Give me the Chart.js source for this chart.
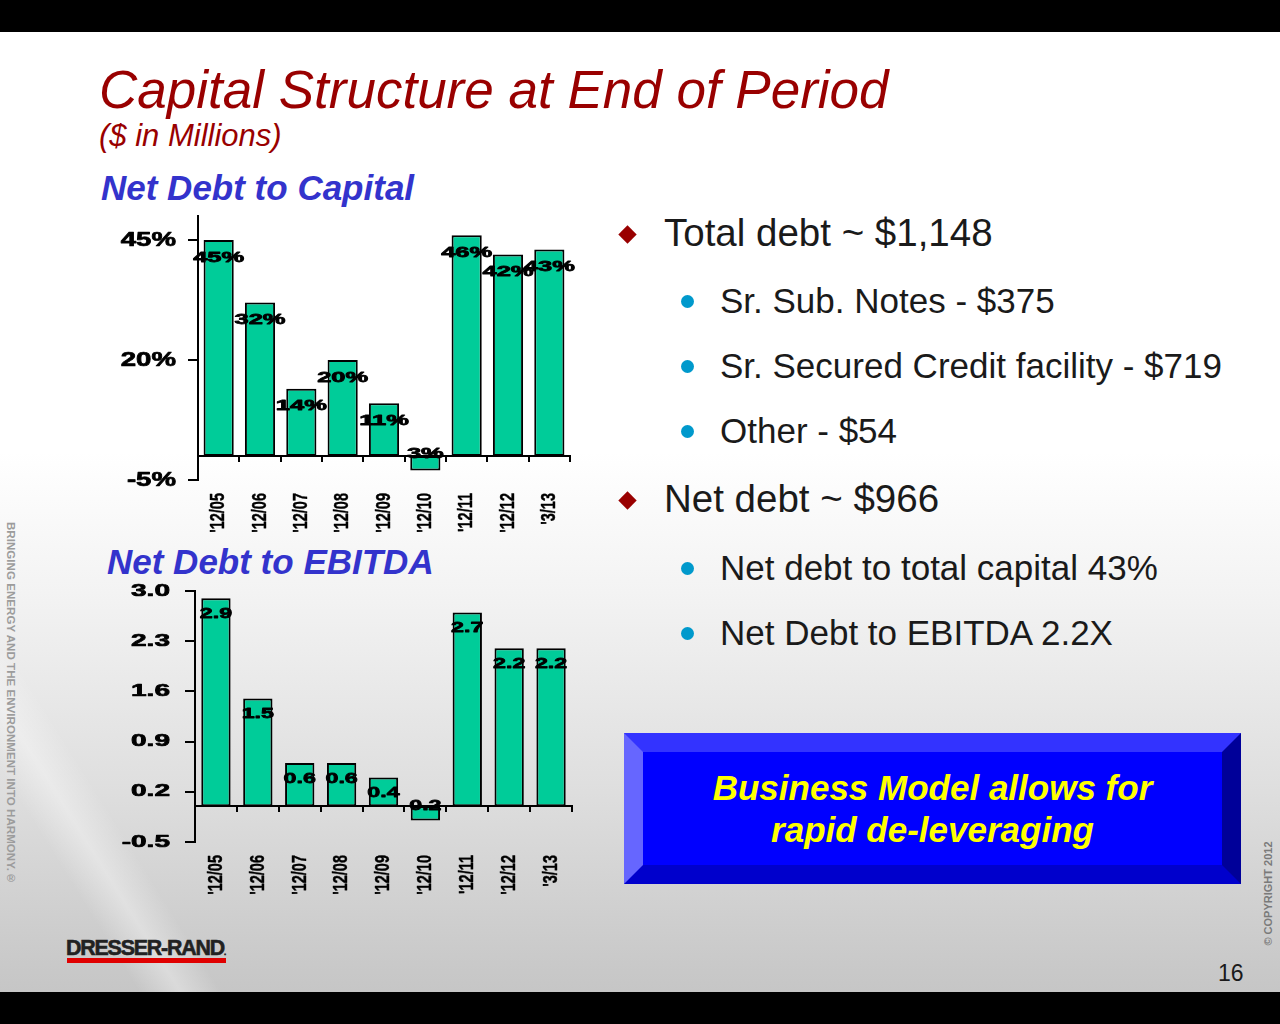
<!DOCTYPE html>
<html><head><meta charset="utf-8">
<script src="https://cdn.jsdelivr.net/npm/chart.js@4.4.1/dist/chart.umd.min.js"></script>
<style>
html,body{margin:0;padding:0;background:#000;}
body{width:1280px;height:1024px;position:relative;overflow:hidden;font-family:"Liberation Sans",Arial,sans-serif;}
#slide{position:absolute;left:0;top:32px;width:1280px;height:960px;background:linear-gradient(to bottom,#ffffff 0px,#ffffff 420px,#f3f3f3 560px,#dedede 760px,#c8c8c8 940px,#c6c6c6 960px);overflow:hidden;}
#swoosh{position:absolute;left:-120px;top:780px;width:420px;height:70px;transform:rotate(58deg);background:linear-gradient(to bottom,rgba(255,255,255,0),rgba(255,255,255,0.35),rgba(255,255,255,0));}
.t{position:absolute;white-space:nowrap;line-height:1;}
canvas{position:absolute;}
.dia{position:absolute;width:13px;height:13px;background:#990000;transform:rotate(45deg);}
.dot{position:absolute;width:13px;height:13px;border-radius:50%;background:#0099cc;}
</style></head>
<body>
<div id="slide"><div id="swoosh"></div></div>

<div class="t" style="left:99px;top:63px;font-size:53px;font-style:italic;color:#990000;">Capital Structure at End of Period</div>
<div class="t" style="left:99px;top:120px;font-size:31px;font-style:italic;color:#990000;">($ in Millions)</div>
<div class="t" style="left:101px;top:170px;font-size:35px;font-style:italic;font-weight:bold;color:#3333cc;">Net Debt to Capital</div>
<div class="t" style="left:107px;top:544px;font-size:35px;font-style:italic;font-weight:bold;color:#3333cc;">Net Debt to EBITDA</div>

<canvas id="c1" width="480" height="340" style="left:100px;top:200px;"></canvas>
<canvas id="c2" width="480" height="330" style="left:100px;top:575px;"></canvas>

<div class="dia" style="left:621px;top:228px;"></div>
<div class="t" style="left:664px;top:214px;font-size:38.5px;color:#1a1a1a;">Total debt ~ $1,148</div>
<div class="dot" style="left:681px;top:295px;"></div>
<div class="t" style="left:720px;top:283px;font-size:35px;color:#1a1a1a;">Sr. Sub. Notes - $375</div>
<div class="dot" style="left:681px;top:360px;"></div>
<div class="t" style="left:720px;top:348px;font-size:35px;color:#1a1a1a;">Sr. Secured Credit facility - $719</div>
<div class="dot" style="left:681px;top:425px;"></div>
<div class="t" style="left:720px;top:413px;font-size:35px;color:#1a1a1a;">Other - $54</div>
<div class="dia" style="left:621px;top:494px;"></div>
<div class="t" style="left:664px;top:480px;font-size:38.5px;color:#1a1a1a;">Net debt ~ $966</div>
<div class="dot" style="left:681px;top:562px;"></div>
<div class="t" style="left:720px;top:550px;font-size:35px;color:#1a1a1a;">Net debt to total capital 43%</div>
<div class="dot" style="left:681px;top:627px;"></div>
<div class="t" style="left:720px;top:615px;font-size:35px;color:#1a1a1a;">Net Debt to EBITDA 2.2X</div>

<div style="position:absolute;left:624px;top:733px;width:617px;height:151px;box-sizing:border-box;border-style:solid;border-width:19px;border-color:#3333ff #000099 #0000cc #6666ff;background:#0000ff;display:flex;align-items:center;justify-content:center;">
  <div style="text-align:center;font-size:35px;font-weight:bold;font-style:italic;color:#ffff00;line-height:42px;">Business Model allows for<br>rapid de-leveraging</div>
</div>

<div class="t" style="left:5px;top:522px;writing-mode:vertical-rl;font-size:11.6px;font-weight:bold;color:#9c9c9c;">BRINGING ENERGY AND THE ENVIRONMENT INTO HARMONY.®</div>
<div class="t" style="left:1212px;top:888px;width:112px;text-align:center;transform:rotate(-90deg);font-size:11px;font-weight:bold;color:#7a7a7a;">© COPYRIGHT 2012</div>

<div class="t" style="left:66px;top:937px;font-size:22px;font-weight:bold;color:#222;letter-spacing:-1.2px;transform:scaleX(0.97);transform-origin:0 0;-webkit-text-stroke:0.6px #222;">DRESSER-RAND<span style="font-size:8px;">.</span></div>
<div style="position:absolute;left:67px;top:958px;width:159px;height:5px;background:#e00000;"></div>
<div class="t" style="left:1218px;top:962px;font-size:23px;color:#1a1a1a;">16</div>

<script>
const categories = ["'12/05","'12/06","'12/07","'12/08","'12/09","'12/10","'12/11","'12/12","'3/13"];
const netDebtToCapital = [45, 32, 14, 20, 11, -3, 46, 42, 43];
const capitalTicks = [-5, 20, 45];
const netDebtToEbitda = [2.9, 1.5, 0.6, 0.6, 0.4, -0.2, 2.7, 2.2, 2.2];
const ebitdaTicks = [-0.5, 0.2, 0.9, 1.6, 2.3, 3.0];

function drawText(ctx, text, x, y, o) {
  ctx.save();
  ctx.translate(x, y);
  if (o.rotate) ctx.rotate(o.rotate);
  ctx.scale(o.sx || 1, o.sy || 1);
  ctx.font = o.font;
  ctx.fillStyle = o.color || '#000';
  ctx.textAlign = o.align || 'center';
  ctx.textBaseline = o.baseline || 'middle';
  ctx.fillText(text, 0, 0);
  if (o.stroke) {
    ctx.strokeStyle = o.color || '#000';
    ctx.lineWidth = o.stroke;
    ctx.lineJoin = 'round';
    ctx.strokeText(text, 0, 0);
  }
  ctx.restore();
}

function makeChart(id, values, ticks, fmtTick, fmtLabel, cfg) {
  const FF = '"Liberation Sans", Arial, sans-serif';
  const plugin = {
    id: 'slideText',
    afterDatasetsDraw(chart) {
      const ctx = chart.ctx, xs = chart.scales.x, ys = chart.scales.y, a = chart.chartArea;
      const y0 = Math.round(ys.getPixelForValue(0));
      ctx.save();
      ctx.strokeStyle = '#000';
      ctx.lineWidth = 2;
      ctx.beginPath();
      ctx.moveTo(a.left, y0);
      ctx.lineTo(a.right + 1, y0);
      for (let k = 0; k < categories.length; k++) {
        const bx = Math.round(xs.getPixelForValue(k + 0.5));
        ctx.moveTo(bx, y0);
        ctx.lineTo(bx, y0 + cfg.catTick);
      }
      ctx.stroke();
      ctx.restore();
    },
    afterDraw(chart) {
      const ctx = chart.ctx, xs = chart.scales.x, ys = chart.scales.y;
      ticks.forEach(v => {
        drawText(ctx, fmtTick(v), cfg.yLabelRight, ys.getPixelForValue(v),
          {font: 'bold ' + cfg.yFont + 'px ' + FF, sx: cfg.ySx, align: 'right', stroke: 0.7});
      });
      categories.forEach((c, i) => {
        drawText(ctx, c, xs.getPixelForValue(i), cfg.xLabelTop,
          {font: 'bold ' + cfg.xFont + 'px ' + FF, rotate: -Math.PI / 2, sy: cfg.xSy, align: 'right', stroke: 0.3});
      });
      const meta = chart.getDatasetMeta(0);
      meta.data.forEach((el, i) => {
        const v = values[i];
        const ly = v >= 0 ? el.y + cfg.labelOff : el.base - cfg.negOff;
        drawText(ctx, fmtLabel(v), el.x, ly, {font: 'bold ' + cfg.dataFont + 'px ' + FF, sx: cfg.dataSx, stroke: 0.8});
      });
    }
  };
  return new Chart(document.getElementById(id), {
    type: 'bar',
    data: {
      labels: categories,
      datasets: [{
        data: values,
        backgroundColor: '#00cc99',
        borderColor: '#000000',
        borderWidth: 2,
        borderSkipped: false,
        barPercentage: cfg.barPct,
        categoryPercentage: 1
      }]
    },
    options: {
      responsive: false,
      animation: false,
      devicePixelRatio: 1,
      layout: {padding: {left: 0, right: cfg.padRight, top: cfg.padTop, bottom: 0}},
      plugins: {legend: {display: false}, tooltip: {enabled: false}},
      scales: {
        x: {
          grid: {display: false},
          border: {display: false},
          ticks: {display: false},
          afterFit: s => { s.height = cfg.xHeight; }
        },
        y: {
          min: cfg.min, max: cfg.max,
          afterBuildTicks: s => { s.ticks = ticks.map(v => ({value: v})); },
          grid: {drawOnChartArea: false, drawTicks: true, tickLength: 10, color: '#000', lineWidth: 2},
          border: {display: true, color: '#000', width: 2},
          ticks: {display: false},
          afterFit: s => { s.width = cfg.yWidth; }
        }
      }
    },
    plugins: [plugin]
  });
}

makeChart('c1', netDebtToCapital, capitalTicks, v => v + '%', v => Math.abs(v) + '%', {
  min: -5, max: 50, padTop: 16, padRight: 10, xHeight: 60, yWidth: 98, barPct: 0.73,
  catTick: 6, yLabelRight: 76, yFont: 20, ySx: 1.38, xLabelTop: 293, xFont: 14.5, xSy: 1.45,
  dataFont: 15, dataSx: 1.7, labelOff: 17.5, negOff: 2
});
makeChart('c2', netDebtToEbitda, ebitdaTicks, v => v.toFixed(1), v => Math.abs(v).toFixed(1), {
  min: -0.5, max: 3.0, padTop: 16, padRight: 8, xHeight: 63, yWidth: 95, barPct: 0.70,
  catTick: 6, yLabelRight: 70, yFont: 17, ySx: 1.65, xLabelTop: 280, xFont: 14.5, xSy: 1.45,
  dataFont: 15.5, dataSx: 1.5, labelOff: 15.5, negOff: 0.5
});
</script>
</body></html>
